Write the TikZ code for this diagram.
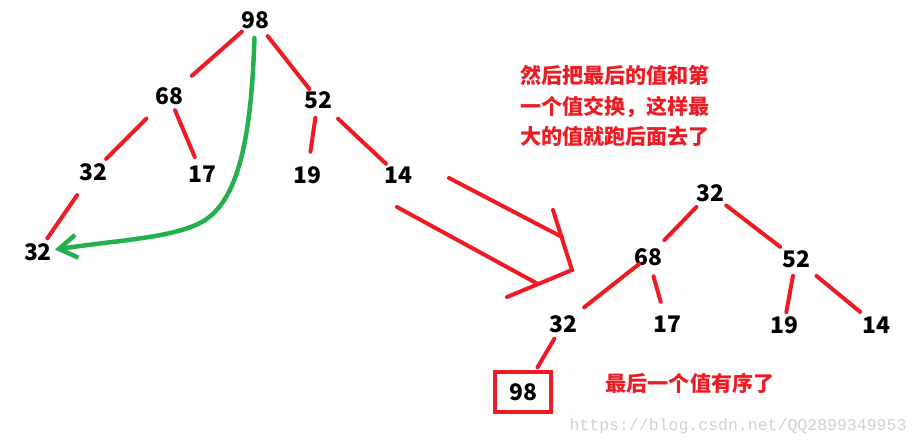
\documentclass[tikz,border=0pt]{standalone}
\usepackage{fontspec}
\newfontfamily\cjk{Noto Sans CJK SC}
\setmonofont{Liberation Mono}
\usetikzlibrary{arrows.meta}
\definecolor{pred}{RGB}{237,28,36}
\definecolor{pgreen}{RGB}{34,177,76}
\tikzset{nd/.style = {inner sep=0pt, font=\cjk\bfseries\fontsize{13}{15}\selectfont},
           bx/.style = {draw=pred, line width=0.8mm, minimum width=1.12cm, minimum height=0.82cm, inner sep=0pt,
                        font=\cjk\bfseries\fontsize{13}{15}\selectfont},
           ed/.style = {draw=pred, line width=0.8mm, line cap=round},
           gr/.style = {draw=pgreen, line width=0.9mm, line cap=round},
           tx/.style = {text=pred, align=left, inner sep=0pt, font=\cjk\bfseries\fontsize{12}{17.5}\selectfont},
           wm/.style = {text=black!18, inner sep=0pt, font=\ttfamily\fontsize{9.4}{11}\selectfont}}

\begin{document}
\begin{tikzpicture}[x=0.02cm, y=-0.02cm, >=Straight Barb]
    \useasboundingbox (0,0) rectangle (920,446);
    % left tree
    \node[nd] (a) at (255,20) {98};
    \node[nd] (b) at (169,96) {68};  \node[nd] (c) at (318,100) {52};
    \node[nd] (d) at (93,172) {32};  \node[nd] (e) at (202,174) {17};
    \node[nd] (f) at (307,175) {19}; \node[nd] (g) at (398,175) {14};
    \node[nd] (h) at (38,252) {32};
    \draw[ed, shorten <=3.5mm, shorten >=6.1mm] (a.center) to (b.center);
    \draw[ed, shorten <=4.1mm, shorten >=2.8mm] (a.center) to (c.center);
    \draw[ed, shorten <=6.4mm, shorten >=3.7mm] (b.center) to (d.center);
    \draw[ed, shorten <=3.1mm, shorten >=3.7mm] (b.center) to (e.center);
    \draw[ed, shorten <=3.6mm, shorten >=4.7mm] (c.center) to (f.center);
    \draw[ed, shorten <=5.5mm, shorten >=3.3mm] (c.center) to (g.center);
    \draw[ed, shorten <=5.6mm, shorten >=3.3mm] (d.center) to (h.center);
    \draw[gr, -{Straight Barb[length=3.6mm, width=4.6mm]}, shorten <=3.6mm, shorten >=3.4mm]
        (a.center) .. controls (251,150) and (235,205) .. (200,223)
                   .. controls (170,238) and (120,240) .. (h.center);
    % big arrow
    \draw[ed] (449,178) -- (562,237);
    \draw[ed] (397,207) -- (538,284);
    \draw[ed] (553,210) -- (572,270) -- (507,297);
    % right tree
    \node[nd] (i) at (710,193) {32};
    \node[nd] (j) at (648,257) {68};  \node[nd] (k) at (796,259) {52};
    \node[nd] (l) at (563,324) {32};  \node[nd] (m) at (667,324) {17};
    \node[nd] (n) at (784,325) {19};  \node[nd] (o) at (876,325) {14};
    \node[bx] (p) at (523,392) {98};
    \draw[ed, shorten <=3.9mm, shorten >=4.7mm] (i.center) to (j.center);
    \draw[ed, shorten <=4.1mm, shorten >=4.0mm] (i.center) to (k.center);
    \draw[ed, shorten <=2.3mm, shorten >=5.4mm] (j.center) to (l.center);
    \draw[ed, shorten <=4.0mm, shorten >=4.6mm] (j.center) to (m.center);
    \draw[ed, shorten <=3.4mm, shorten >=2.6mm] (k.center) to (n.center);
    \draw[ed, shorten <=5.3mm, shorten >=4.1mm] (k.center) to (o.center);
    \draw[ed, shorten <=3.4mm, shorten >=0.5mm] (l.center) to (p);
    % texts
    \node[tx] (t1) at (615,106) {然后把最后的值和第\\一个值交换，这样最\\大的值就跑后面去了};
    \node[tx] (t2) at (690,383) {最后一个值有序了};
    \node[wm] (w) at (738,426) {https://blog.csdn.net/QQ2899349953};
\end{tikzpicture}
\end{document}
